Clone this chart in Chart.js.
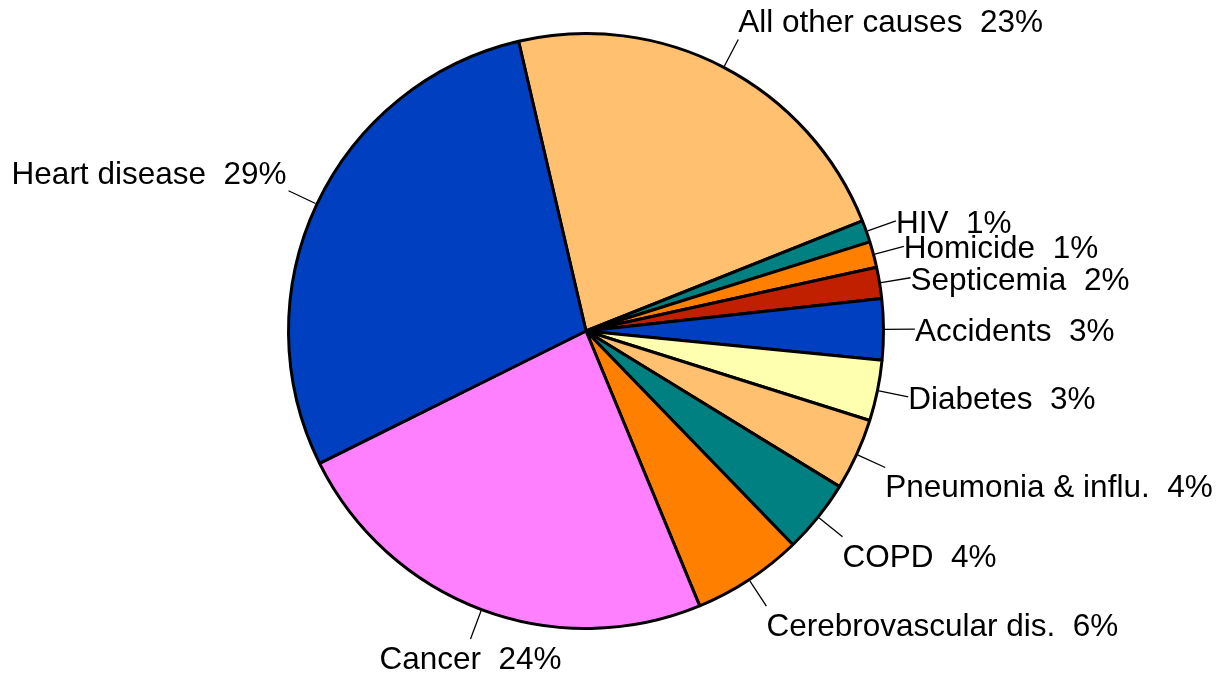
<!DOCTYPE html>
<html>
<head>
<meta charset="utf-8">
<script src="https://cdn.jsdelivr.net/npm/chart.js@4/dist/chart.umd.min.js"></script>
<style>
	html, body { margin: 0; padding: 0; background: #ffffff; }
	#wrap { width: 1220px; height: 675px; position: relative; }
</style>
</head>
<body>
<div id="wrap"><canvas id="chart"></canvas></div>
<script>
// causes of death, in the order the pie goes round (counter-clockwise)
const causes = ['Heart disease', 'Cancer', 'Cerebrovascular dis.', 'COPD', 'Pneumonia & influ.',
	'Diabetes', 'Accidents', 'Septicemia', 'Homicide', 'HIV', 'All other causes'];
const shares = [28.7, 23.9, 6.0, 4.0, 3.9, 3.3, 3.3, 1.7, 1.4, 1.2, 22.6];
const sliceColors = ['#0040C0', '#FF80FF', '#FF8000', '#008080', '#FFC070',
	'#FFFFB0', '#0040C0', '#C02000', '#FF8000', '#008080', '#FFC070'];

// Chart.js draws clockwise, so reverse everything
const labels = causes.slice().reverse();
const values = shares.slice().reverse();
const colors = sliceColors.slice().reverse();
const total = values.reduce((a, b) => a + b, 0);

const labelFont = '31.5px "Liberation Sans", Arial, sans-serif';

const pieLabels = {
	id: 'pieLabels',
	afterDatasetsDraw(chart) {
		const ctx = chart.ctx;
		const meta = chart.getDatasetMeta(0);
		ctx.save();
		ctx.font = labelFont;
		ctx.fillStyle = '#000000';
		ctx.strokeStyle = '#000000';
		ctx.lineWidth = 1.3;
		meta.data.forEach((arc, i) => {
			const p = arc.getProps(['x', 'y', 'startAngle', 'endAngle', 'outerRadius'], true);
			const mid = (p.startAngle + p.endAngle) / 2;
			const c = Math.cos(mid), s = Math.sin(mid);
			const r0 = p.outerRadius + 1.5;
			const r1 = r0 * 1.1;
			const x1 = p.x + c * r1, y1 = p.y + s * r1;
			ctx.beginPath();
			ctx.moveTo(p.x + c * r0, p.y + s * r0);
			ctx.lineTo(x1, y1);
			ctx.stroke();

			const pct = Math.round(values[i] / total * 100);
			const text = labels[i] + '  ' + pct + '%';
			let tx = x1;
			if (c > 0.4) ctx.textAlign = 'left';
			else if (c < -0.4) { ctx.textAlign = 'right'; tx = x1 - 2; }
			else ctx.textAlign = 'center';
			let ty = y1 + 12;
			if (s > 0.4) ty = y1 + 30;
			else if (s < -0.4) ty = y1 - 7;
			ctx.textBaseline = 'alphabetic';
			ctx.fillText(text, tx, ty);
		});
		ctx.restore();
	}
};

new Chart(document.getElementById('chart'), {
	type: 'pie',
	data: {
		labels: labels,
		datasets: [{
			data: values,
			backgroundColor: colors,
			borderColor: '#000000',
			borderWidth: 3
		}]
	},
	options: {
		responsive: true,
		maintainAspectRatio: false,
		animation: false,
		rotation: -13.1,
		layout: { padding: { left: 287, top: 32, right: 335, bottom: 45 } },
		plugins: {
			legend: { display: false },
			tooltip: { enabled: false }
		}
	},
	plugins: [pieLabels]
});
</script>
</body>
</html>
